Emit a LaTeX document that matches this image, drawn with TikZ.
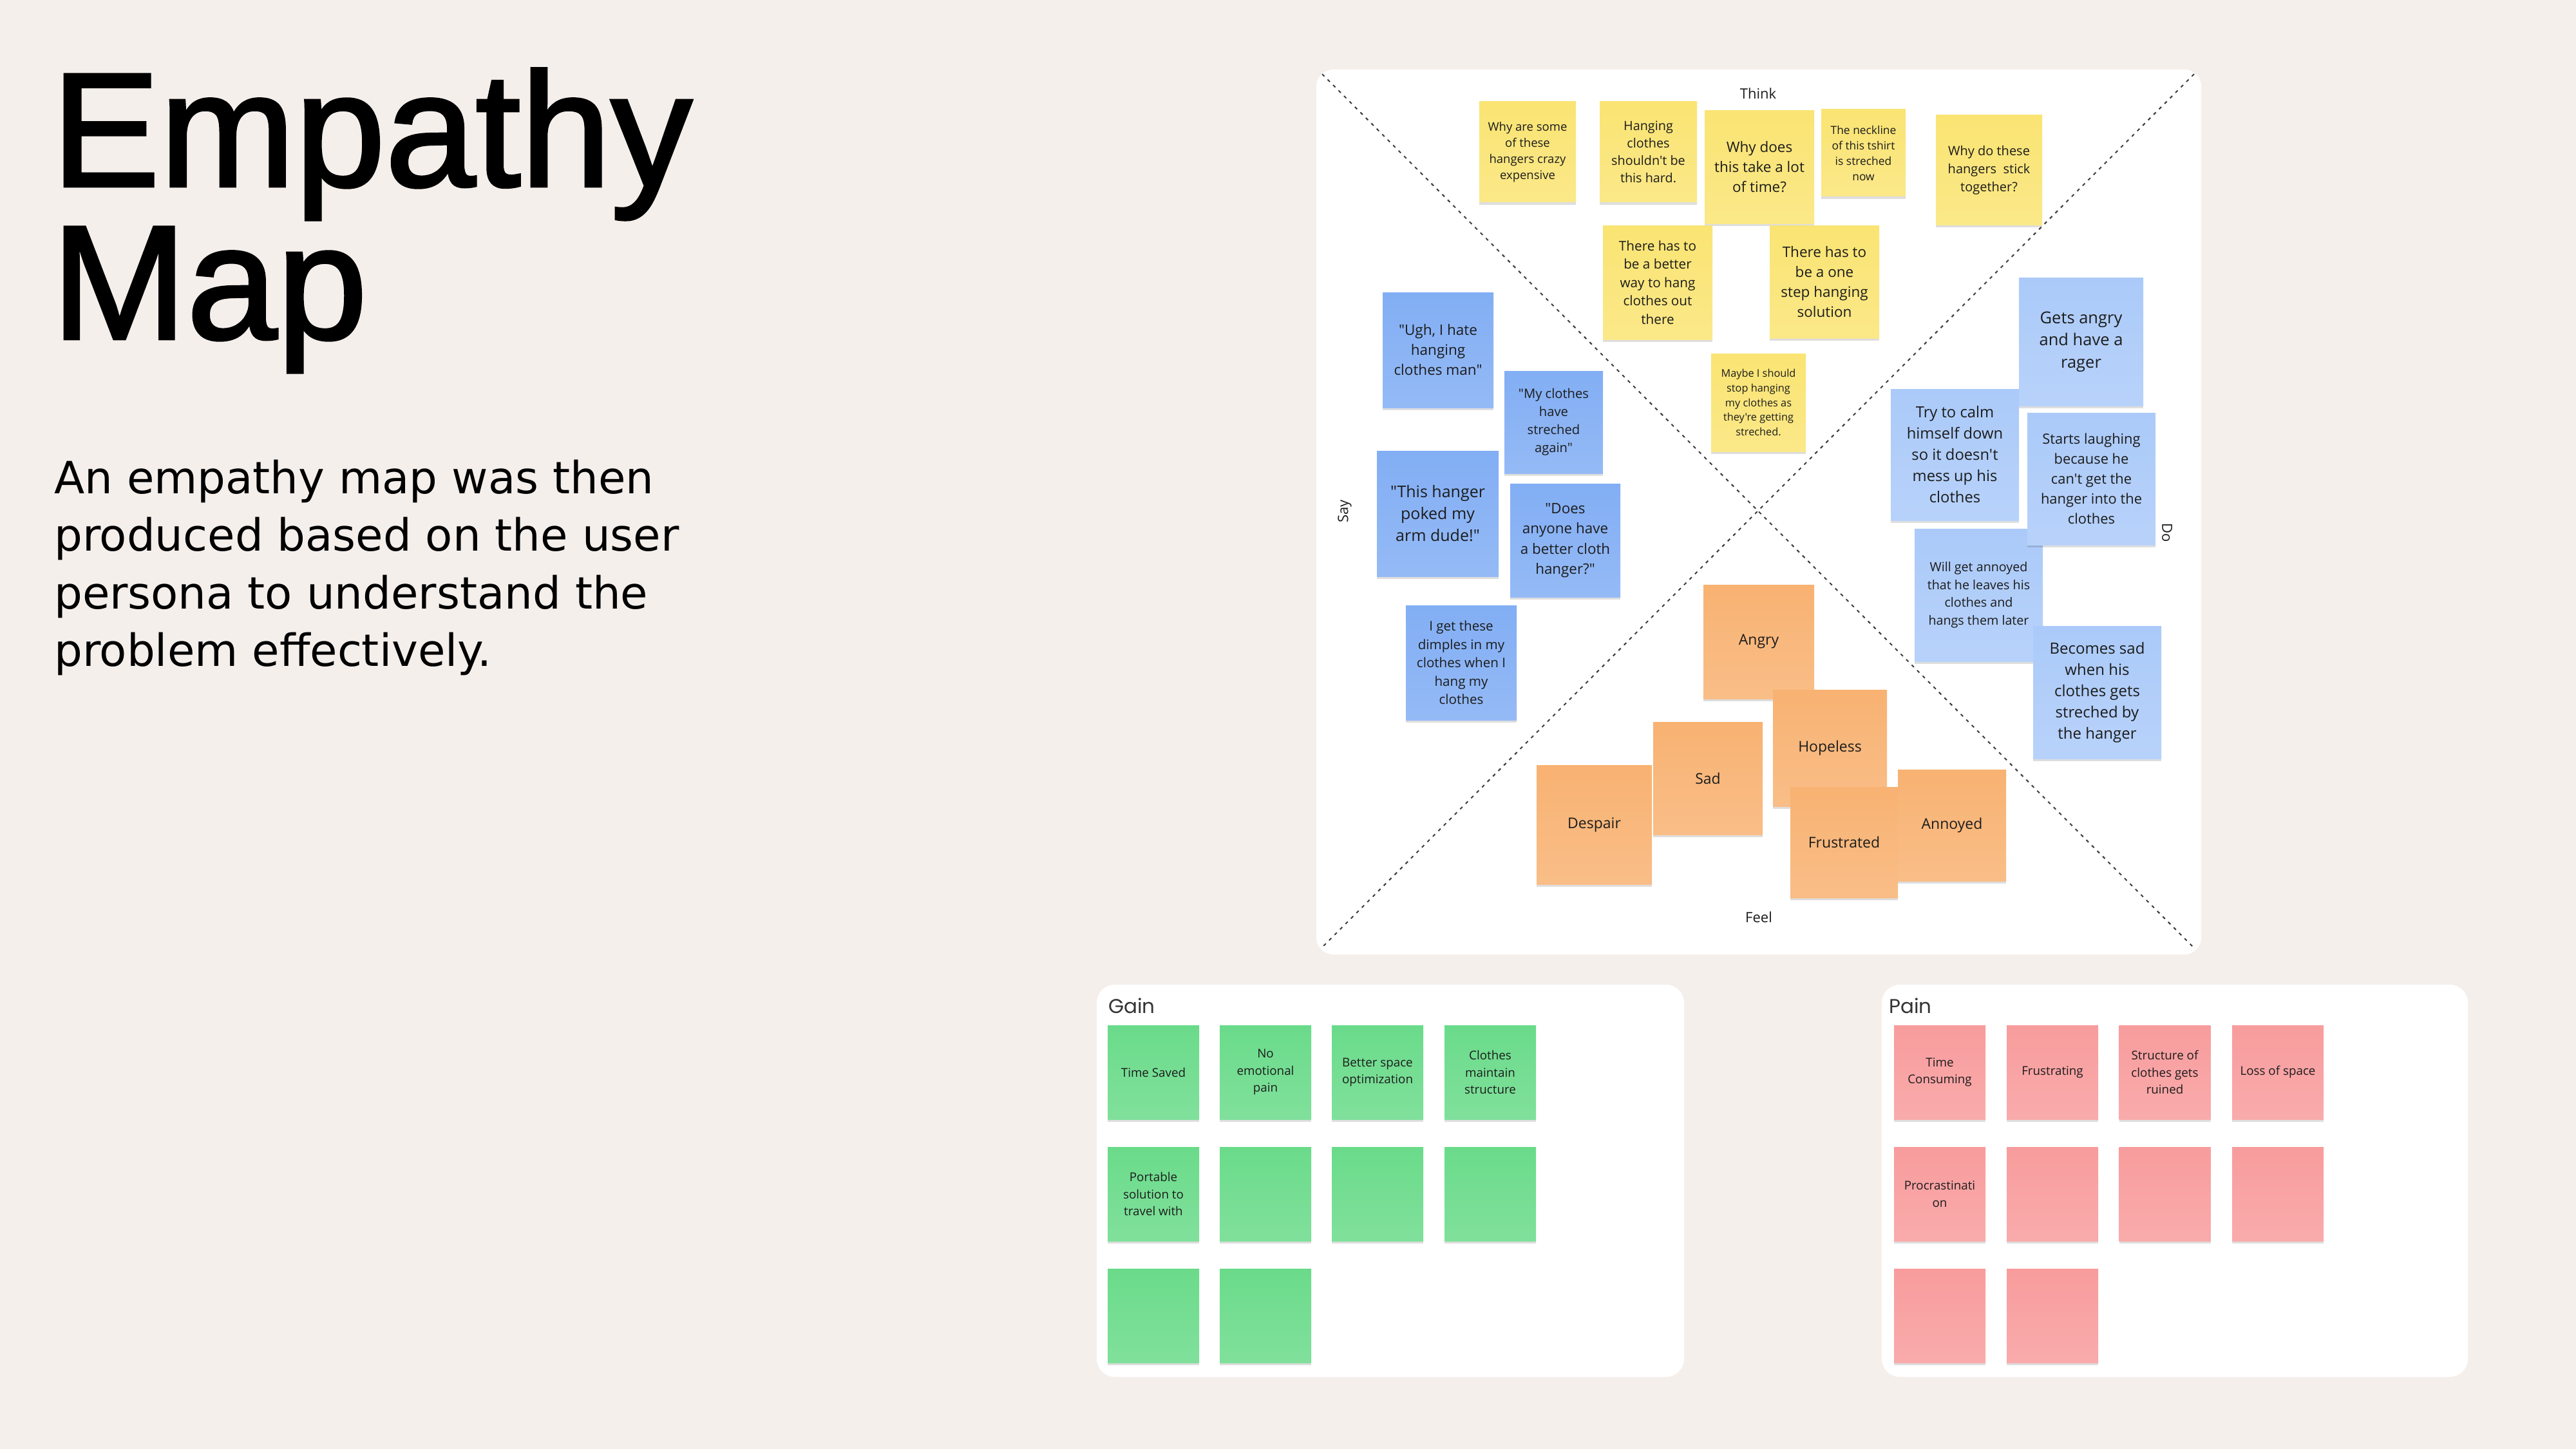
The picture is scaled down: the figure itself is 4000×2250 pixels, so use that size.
\documentclass[tikz,border=0pt]{standalone}
\usepackage{fontspec}
\usetikzlibrary{shadows}
\newfontfamily\notefont{Open Sans}
\newfontfamily\titlefont[FakeBold=1.8]{Liberation Sans}
\newfontfamily\subfont{DejaVu Sans}
\newfontfamily\panelfont{Poppins}
\definecolor{bgcol}{RGB}{245,239,236}
\definecolor{ink}{RGB}{28,28,28}
\definecolor{yel}{RGB}{250,228,115}
\definecolor{sayblue}{RGB}{130,174,244}
\definecolor{doblue}{RGB}{171,202,249}
\definecolor{orng}{RGB}{248,178,114}
\definecolor{grn}{RGB}{106,219,138}
\definecolor{pnk}{RGB}{248,156,157}
\definecolor{dashcol}{RGB}{60,60,60}
\newcommand{\stickynote}[9]{%
  \node[sticky, top color=#6, bottom color=#6!85!white, minimum width=#4pt, minimum height=#5pt,
        font=\notefont\fontsize{#7}{#8}\selectfont] (#1) at (#2,#3) {#9};}
\tikzset{
  sticky/.style={inner sep=0pt, align=center, text=ink,
    drop shadow={shadow xshift=0pt, shadow yshift=-4pt, opacity=0.13, fill=black}},
  diag/.style={draw=dashcol, line width=2pt, dash pattern=on 5pt off 7pt},
  lbl/.style={inner sep=0pt, text=ink, font=\notefont\fontsize{22}{28}\selectfont},
  panel/.style={fill=white, rounded corners=28pt, inner sep=0pt},
  paneltitle/.style={inner sep=0pt, text=ink!90, anchor=base west, font=\panelfont\fontsize{31}{36}\selectfont},
  titletext/.style={inner sep=0pt, anchor=base west, text=black, font=\titlefont\fontsize{252}{240}\selectfont},
  subtext/.style={inner sep=0pt, anchor=base west, text=black, font=\subfont\fontsize{69}{89}\selectfont}
}
\begin{document}
\begin{tikzpicture}[x=1pt,y=-1pt]
\useasboundingbox (0,0) rectangle (4000,2250);
\fill[bgcol] (0,0) rectangle (4000,2250);

% title and intro text
\node[titletext] (title1) at (80,289) {Empathy};
\node[titletext] (title2) at (80,526) {Map};
\node[subtext] (sub1) at (84,766) {An empathy map was then};
\node[subtext] (sub2) at (84,855) {produced based on the user};
\node[subtext] (sub3) at (84,945) {persona to understand the};
\node[subtext] (sub4) at (84,1034) {problem effectively.};

% empathy map board
\node[fill=white, rounded corners=26pt, minimum width=1374pt, minimum height=1374pt, inner sep=0pt] (board) at (2731,795) {};
\coordinate (tl) at (2053,115);
\coordinate (br) at (3407,1472);
\coordinate (tr) at (3407,115);
\coordinate (bl) at (2052,1472);
\draw[diag] (tl) -- (br);
\draw[diag] (tr) -- (bl);
\node[lbl] (think) at (2730,145) {Think};
\node[lbl] (feel) at (2731,1424) {Feel};
\node[lbl, rotate=90] (say) at (2088,794) {Say};
\node[lbl, rotate=-90] (do) at (3365,827) {Do};

% Think
\stickynote{y1}{2372}{236}{150}{156}{yel}{18.5}{25}{Why are some\\of these\\hangers crazy\\expensive}
\stickynote{y2}{2559.5}{236}{151}{156}{yel}{19.8}{27}{Hanging\\clothes\\shouldn't be\\this hard.}
\stickynote{y3}{2732}{259.5}{170}{175}{yel}{22.5}{31}{Why does\\this take a lot\\of time?}
\stickynote{y4}{2893.5}{237.5}{131}{135}{yel}{17.4}{24}{The neckline\\of this tshirt\\is streched\\now}
\stickynote{y5}{3088.5}{264}{165}{170}{yel}{20}{28}{Why do these\\hangers\ \ stick\\together?}
\stickynote{y6}{2574}{438.5}{170}{177}{yel}{20.7}{28.6}{There has to\\be a better\\way to hang\\clothes out\\there}
\stickynote{y7}{2833}{437.5}{170}{175}{yel}{22.5}{31}{There has to\\be a one\\step hanging\\solution}
\stickynote{y8}{2730.5}{625}{147}{152}{yel}{16.3}{22.7}{Maybe I should\\stop hanging\\my clothes as\\they're getting\\streched.}

% Say
\stickynote{s1}{2233}{543.5}{172}{179}{sayblue}{22.5}{31}{"Ugh, I hate\\hanging\\clothes man"}
\stickynote{s2}{2412.5}{655.5}{153}{159}{sayblue}{20.2}{28}{"My clothes\\have\\streched\\again"}
\stickynote{s3}{2232.5}{797.5}{189}{195}{sayblue}{25}{34}{"This hanger\\poked my\\arm dude!"}
\stickynote{s4}{2430.5}{839}{171}{176}{sayblue}{22.4}{31.4}{"Does\\anyone have\\a better cloth\\hanger?"}
\stickynote{s5}{2269}{1029}{172}{178}{sayblue}{20.6}{28.5}{I get these\\dimples in my\\clothes when I\\hang my\\clothes}

% Do
\stickynote{d1}{3231.5}{530.5}{193}{199}{doblue}{25.5}{34.4}{Gets angry\\and have a\\rager}
\stickynote{d2}{3035.5}{706}{199}{204}{doblue}{23.8}{33}{Try to calm\\himself down\\so it doesn't\\mess up his\\clothes}
\stickynote{d4}{3072.5}{924}{199}{206}{doblue}{19.7}{27.5}{Will get annoyed\\that he leaves his\\clothes and\\hangs them later}
\stickynote{d3}{3247.5}{743.5}{199}{205}{doblue}{21.9}{31}{Starts laughing\\because he\\can't get the\\hanger into the\\clothes}
\stickynote{d5}{3256.5}{1075}{199}{206}{doblue}{24}{33}{Becomes sad\\when his\\clothes gets\\streched by\\the hanger}

% Feel
\stickynote{f1}{2731}{996.5}{172}{177}{orng}{23}{31}{Angry}
\stickynote{f2}{2841.5}{1161.5}{177}{181}{orng}{23}{31}{Hopeless}
\stickynote{f3}{2652}{1208.5}{170}{175}{orng}{23}{31}{Sad}
\stickynote{f4}{2475.5}{1280.5}{179}{185}{orng}{23}{31}{Despair}
\stickynote{f5}{2863.5}{1308}{167}{172}{orng}{23}{31}{Frustrated}
\stickynote{f6}{3031}{1281.5}{168}{173}{orng}{23}{31}{Annoyed}

% Gain panel
\node[panel, minimum width=912pt, minimum height=609pt] (gainpanel) at (2159,1833.5) {};
\node[paneltitle] (gainlbl) at (1721,1573) {Gain};
\stickynote{g1}{1791}{1665}{142}{146}{grn}{18.8}{26.5}{Time Saved}
\stickynote{g2}{1965}{1665}{142}{146}{grn}{18.8}{26.5}{No\\emotional\\pain}
\stickynote{g3}{2139}{1665}{142}{146}{grn}{18.8}{26.5}{Better space\\optimization}
\stickynote{g4}{2314}{1665}{142}{146}{grn}{18.8}{26.5}{Clothes\\maintain\\structure}
\stickynote{g5}{1791}{1854}{142}{146}{grn}{18.8}{26.5}{Portable\\solution to\\travel with}
\stickynote{g6}{1965}{1854}{142}{146}{grn}{18.8}{26.5}{}
\stickynote{g7}{2139}{1854}{142}{146}{grn}{18.8}{26.5}{}
\stickynote{g8}{2314}{1854}{142}{146}{grn}{18.8}{26.5}{}
\stickynote{g9}{1791}{2043}{142}{146}{grn}{18.8}{26.5}{}
\stickynote{g10}{1965}{2043}{142}{146}{grn}{18.8}{26.5}{}

% Pain panel
\node[panel, minimum width=910pt, minimum height=609pt] (painpanel) at (3377,1833.5) {};
\node[paneltitle] (painlbl) at (2933,1573) {Pain};
\stickynote{p1}{3012}{1665}{142}{146}{pnk}{18.8}{26.5}{Time\\Consuming}
\stickynote{p2}{3187}{1665}{142}{146}{pnk}{18.8}{26.5}{Frustrating}
\stickynote{p3}{3361.5}{1665}{142}{146}{pnk}{18.8}{26.5}{Structure of\\clothes gets\\ruined}
\stickynote{p4}{3537}{1665}{142}{146}{pnk}{18.8}{26.5}{Loss of space}
\stickynote{p5}{3012}{1854}{142}{146}{pnk}{18.8}{26.5}{Procrastinati\\on}
\stickynote{p6}{3187}{1854}{142}{146}{pnk}{18.8}{26.5}{}
\stickynote{p7}{3361.5}{1854}{142}{146}{pnk}{18.8}{26.5}{}
\stickynote{p8}{3537}{1854}{142}{146}{pnk}{18.8}{26.5}{}
\stickynote{p9}{3012}{2043}{142}{146}{pnk}{18.8}{26.5}{}
\stickynote{p10}{3187}{2043}{142}{146}{pnk}{18.8}{26.5}{}
\end{tikzpicture}
\end{document}
